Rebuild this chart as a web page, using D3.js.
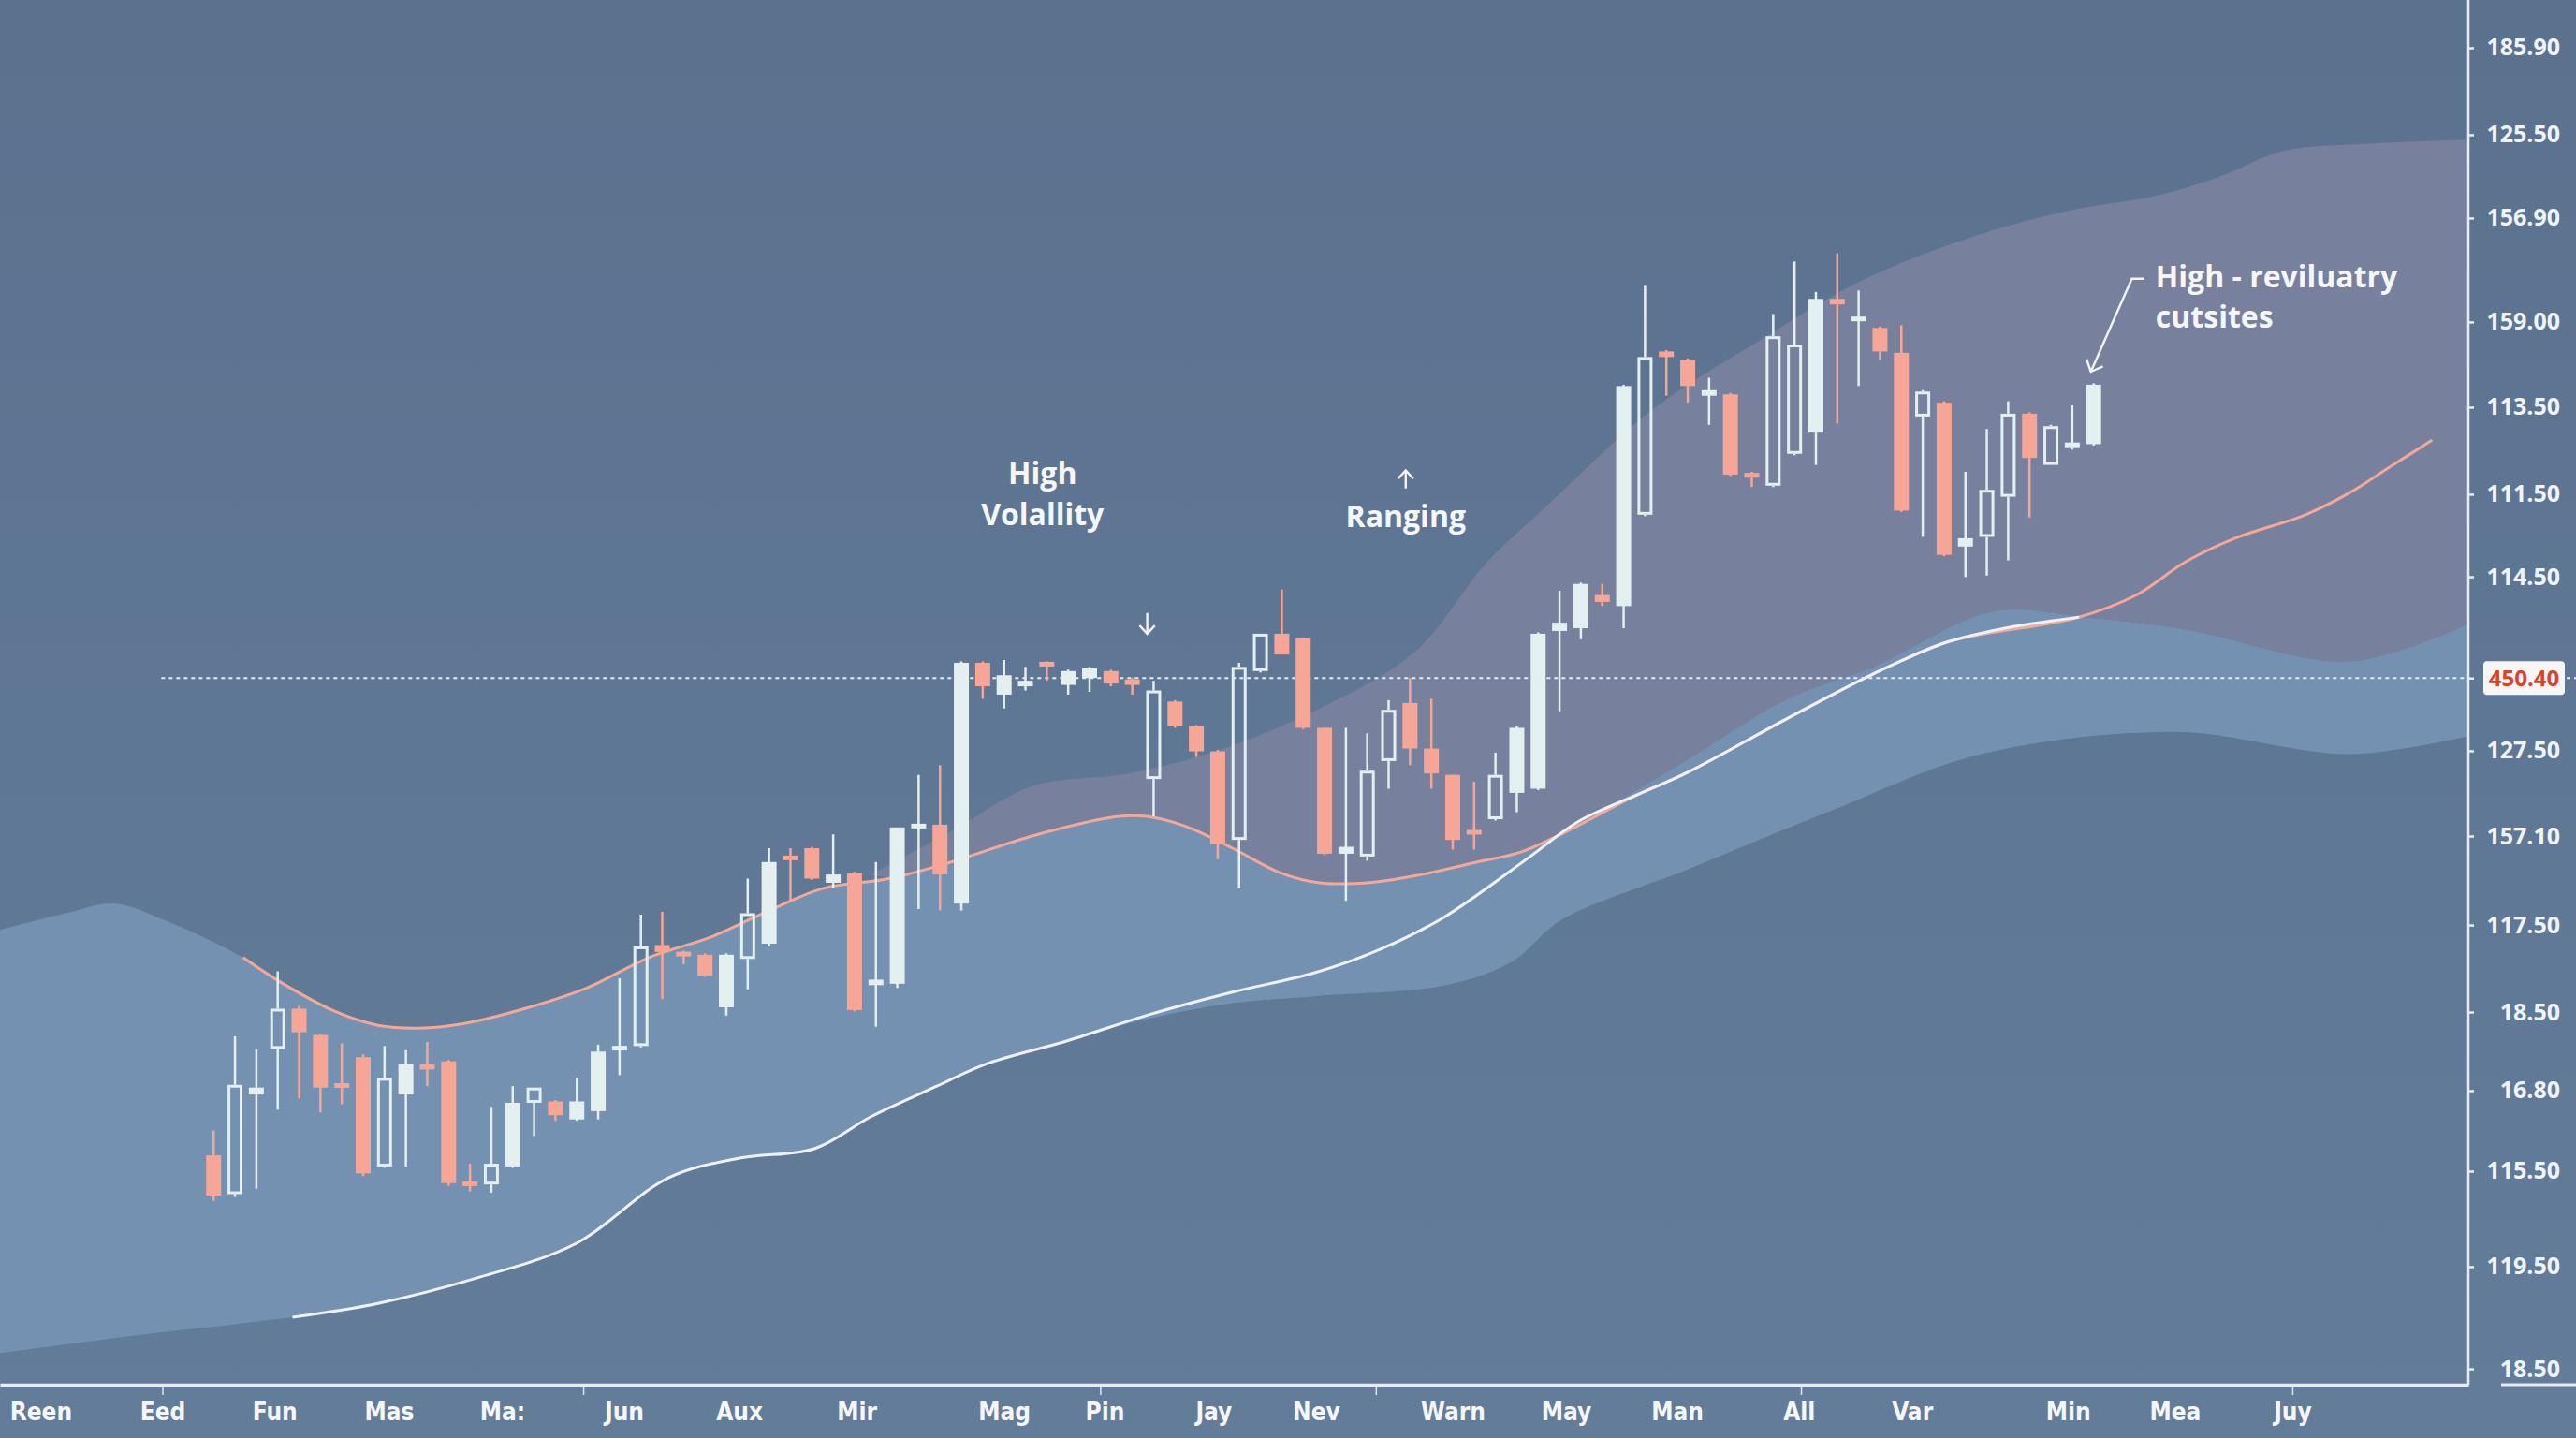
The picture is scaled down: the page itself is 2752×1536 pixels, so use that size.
<!DOCTYPE html>
<html>
<head>
<meta charset="utf-8">
<script src="https://cdn.jsdelivr.net/npm/d3@7"></script>
<style>
  html, body { margin: 0; padding: 0; background: #5e7692; }
  svg { display: block; }
</style>
</head>
<body>
<div class="container"></div>
<script>
// candles: one per session, session = array position
const opens = [16.5, 13.7, 20.9, 24.2, 27.1, 25.2, 21.7, 23.6, 15.7, 20.9,
  23.1, 23.3, 14.6, 14.4, 15.7, 20.3, 20.4, 19.1, 19.7, 24.1,
  24.4, 31.7, 31.2, 31.0, 27.2, 30.7, 31.8, 38.1, 38.7, 36.2,
  36.9, 28.8, 28.9, 40.2, 40.4, 34.7, 52.1, 49.8, 50.4, 52.1,
  50.5, 51.0, 51.5, 50.9, 43.7, 49.3, 47.5, 45.7, 39.3, 51.5,
  54.2, 53.9, 47.4, 38.3, 38.1, 45.0, 49.2, 45.9, 44.0, 40.0,
  40.8, 42.7, 43.0, 54.4, 54.6, 57.0, 56.2, 62.8, 74.6, 74.0,
  71.4, 71.5, 65.8, 64.9, 67.2, 68.8, 78.4, 76.8, 76.3, 74.5,
  69.9, 70.9, 60.5, 61.2, 64.1, 70.1, 66.4, 67.7, 67.9];
const highs = [18.3, 25.1, 24.2, 29.8, 27.3, 25.3, 24.6, 23.8, 24.4, 24.1,
  24.7, 23.4, 15.9, 20.0, 21.5, 21.4, 20.5, 22.1, 24.5, 29.3,
  33.9, 34.1, 31.3, 31.1, 31.1, 36.5, 38.7, 38.7, 38.8, 39.7,
  37.0, 37.7, 40.2, 44.0, 44.7, 52.2, 52.2, 52.3, 51.8, 52.2,
  51.6, 51.8, 51.6, 51.0, 50.8, 49.4, 47.6, 45.8, 52.1, 54.2,
  57.4, 53.9, 47.4, 47.4, 47.0, 49.4, 51.0, 49.5, 44.0, 43.5,
  45.6, 47.5, 54.3, 57.3, 57.9, 57.8, 72.2, 79.4, 74.7, 74.1,
  72.7, 71.6, 65.9, 77.3, 81.1, 78.9, 81.7, 79.0, 76.4, 76.5,
  71.8, 71.0, 65.9, 69.0, 71.0, 70.2, 69.3, 70.7, 72.3];
const lows = [13.2, 13.5, 14.1, 19.8, 20.6, 19.6, 20.2, 15.0, 15.6, 15.7,
  21.5, 14.3, 13.9, 13.8, 15.6, 17.9, 19.0, 19.0, 19.1, 22.3,
  24.3, 27.8, 30.3, 29.4, 26.6, 28.5, 31.6, 34.9, 36.4, 35.8,
  26.9, 25.8, 28.6, 34.3, 34.2, 34.2, 49.5, 48.8, 50.1, 50.8,
  49.8, 50.0, 50.4, 49.8, 41.0, 47.4, 45.3, 37.9, 35.8, 51.4,
  52.7, 47.3, 38.2, 34.9, 37.8, 43.0, 44.7, 43.0, 38.6, 38.6,
  40.7, 41.3, 42.9, 48.6, 53.8, 56.2, 54.6, 62.7, 71.4, 70.9,
  69.3, 65.6, 64.8, 64.8, 67.1, 66.4, 69.4, 72.1, 74.0, 63.0,
  61.2, 59.8, 58.3, 58.4, 59.5, 62.6, 66.4, 67.5, 67.8];
const closes = [13.6, 21.6, 21.4, 27.1, 25.4, 21.4, 21.4, 15.2, 22.1, 23.1,
  22.7, 14.5, 14.3, 15.9, 20.3, 21.4, 19.4, 20.4, 24.0, 24.4,
  31.6, 31.2, 30.9, 29.5, 31.0, 34.0, 37.7, 37.9, 36.5, 36.8,
  27.0, 29.2, 40.2, 40.4, 36.8, 52.1, 50.4, 51.2, 50.8, 51.9,
  51.5, 51.7, 50.6, 50.5, 50.1, 47.5, 45.7, 39.0, 51.8, 54.2,
  52.7, 47.4, 38.3, 38.8, 44.3, 48.7, 45.9, 44.1, 39.3, 39.7,
  44.0, 47.4, 54.2, 55.0, 57.8, 56.5, 72.1, 74.2, 74.2, 72.1,
  71.8, 65.7, 65.5, 75.7, 75.1, 78.4, 78.0, 77.1, 74.6, 63.1,
  71.7, 59.9, 61.1, 64.6, 70.1, 66.9, 69.2, 68.0, 72.2];
const hollowCandles = [1, 3, 8, 13, 15, 20, 25, 44, 48, 49, 54, 55, 60, 67, 73, 74, 80, 83, 84, 86];

// bands and averages (session, price)
const blueTopAt = [-10, -6.92, -4.62, -2.31, 1.38, 3.15, 5.69, 7.69, 9.62, 11.62, 14.54, 17.46, 20.38, 23.31,
  26.15, 28.54, 31.62, 34.54, 38.35, 42.38, 43.69, 45.46, 47.69, 49.96, 51.77, 54.0, 56.23, 59.15, 61.15,
  62.92, 65.38, 68.89, 73.69, 77.69, 83.28, 87.54, 92.31, 100, 105.54];
const blueTop = [32.8, 34.0, 34.7, 33.5, 30.8, 29.0, 26.9, 25.9, 25.7, 26.0, 27.1, 28.6, 30.8, 32.3,
  34.3, 35.8, 36.5, 37.7, 39.6, 41.0, 41.0, 40.3, 38.7, 36.9, 36.2, 36.2, 36.7, 37.7, 38.4,
  39.6, 41.8, 45.0, 49.5, 51.8, 55.8, 55.4, 54.5, 52.2, 54.9];
const blueBottomAt = [-10, -3.08, 3.69, 7.69, 12.23, 16.92, 21.31, 24.62, 28.15, 30.77, 33.85, 36.15, 40.0,
  43.85, 47.69, 51.54, 57.69, 60.77, 63.08, 68.89, 75.54, 82.74, 91.77, 100, 105.54];
const blueBottom = [2.2, 3.6, 4.8, 5.8, 7.6, 10.1, 14.9, 16.3, 17.0, 19.3, 21.5, 23.1, 24.8,
  26.4, 27.5, 28.0, 28.8, 30.5, 33.5, 37.1, 41.3, 45.5, 47.1, 45.5, 46.8];
const greyTopAt = [30.77, 34.62, 38.35, 42.82, 47.28, 51.75, 56.23, 59.62, 62.31, 67.35, 72.38, 77.38,
  82.77, 86.92, 90.77, 93.85, 96.92, 100.77, 105.54];
const greyTop = [36.8, 40.0, 43.2, 44.1, 45.9, 48.8, 52.9, 59.4, 63.3, 70.4, 75.4, 79.9,
  83.1, 84.8, 85.8, 87.2, 89.1, 89.6, 89.9];
const slowAvgAt = [1.38, 3.15, 5.69, 7.69, 9.62, 11.62, 14.54, 17.46, 20.38, 23.31, 26.15, 28.54, 31.62,
  34.54, 38.35, 42.38, 43.69, 45.46, 47.69, 49.96, 51.77, 54.0, 56.23, 59.15, 61.15, 62.92, 66.69, 68.89,
  73.69, 77.69, 81.15, 87.31, 90.0, 92.31, 94.62, 97.92, 100, 101.92, 103.85];
const slowAvg = [30.8, 29.0, 26.9, 25.9, 25.7, 26.0, 27.1, 28.6, 30.8, 32.3, 34.3, 35.8, 36.5,
  37.7, 39.6, 41.0, 41.0, 40.3, 38.7, 36.9, 36.2, 36.2, 36.7, 37.7, 38.4, 39.6, 42.6, 44.1,
  48.1, 51.3, 53.6, 55.4, 57.0, 59.4, 61.1, 62.8, 64.4, 66.3, 68.2];
const fastAvgAt = [3.69, 7.69, 12.23, 16.92, 21.31, 24.62, 28.15, 30.77, 33.85, 36.15, 40.0, 43.85, 47.69,
  51.54, 54.62, 57.58, 61.54, 63.85, 66.69, 68.89, 73.69, 77.69, 81.15, 83.85, 87.31];
const fastAvg = [4.8, 5.8, 7.6, 10.1, 14.9, 16.3, 17.0, 19.3, 21.5, 23.1, 24.8, 26.7, 28.3,
  29.7, 31.4, 33.7, 38.0, 40.6, 42.6, 44.1, 48.1, 51.3, 53.6, 54.6, 55.4];

// axes
const monthLabels = ['Reen', 'Eed', 'Fun', 'Mas', 'Ma:', 'Jun', 'Aux', 'Mir', 'Mag', 'Pin',
  'Jay', 'Nev', 'Warn', 'May', 'Man', 'All', 'Var', 'Min', 'Mea', 'Juy'];
const monthAt = [-8.1, -2.4, 2.85, 8.2, 13.5, 19.2, 24.6, 30.1, 37.0, 41.7,
  46.8, 51.6, 58.0, 63.3, 68.5, 74.2, 79.5, 86.8, 91.8, 97.3];
const monthMarks = [-2.4, 17.3, 41.5, 54.4, 74.3, 97.3];
const priceLabels = ['185.90', '125.50', '156.90', '159.00', '113.50', '111.50', '114.50',
  '127.50', '157.10', '117.50', '18.50', '16.80', '115.50', '119.50', '18.50'];
const priceAt = [96.55, 90.26, 84.24, 76.73, 70.57, 64.28, 58.32,
  45.74, 39.58, 33.15, 26.86, 21.18, 15.36, 8.46, 1.08];
const lastPrice = 51.0;
const lastPriceLabel = '450.40';
const lastPriceFrom = -2.45;

// annotations
const noteText = ['High', 'Volallity', 'Ranging', 'High - reviluatry', 'cutsites'];
const noteAt = [[38.8, 65.8], [38.8, 62.8], [55.8, 62.7], [90.9, 80.0], [90.9, 77.1]];
const noteAnchor = ['middle', 'middle', 'middle', 'start', 'start'];
const arrows = [
  [[43.7, 55.7], [43.7, 54.2]],
  [[55.8, 64.7], [55.8, 66.0]],
  [[90.37, 79.85], [89.79, 79.85], [87.87, 73.14]],
];

const width = 2752;
const height = 1536;
const axisX = 2637;
const axisY = 1479;

const x = d3.scaleLinear().domain([-10, 105.54]).range([0, axisX]);
const y = d3.scaleLinear().domain([0, 100]).range([1478, 0]);

const svg = d3.select('.container').append('svg').attr('width', width).attr('height', height);
const defs = svg.append('defs');
const grad = defs.append('linearGradient').attr('id', 'bg')
  .attr('x1', 0).attr('y1', 0).attr('x2', 0).attr('y2', 1);
grad.append('stop').attr('offset', '0%').attr('stop-color', '#5b728f');
grad.append('stop').attr('offset', '100%').attr('stop-color', '#627c99');
defs.append('clipPath').attr('id', 'plot').append('rect').attr('width', axisX).attr('height', axisY);

svg.append('rect').attr('width', width).attr('height', height).attr('fill', 'url(#bg)');

const lineGen = d3.line().x((d) => x(d[0])).y((d) => y(d[1])).curve(d3.curveCatmullRom.alpha(0.5));
const bandPath = (top, bottom) => {
  const a = lineGen(top);
  const b = lineGen(bottom.slice().reverse());
  return a + 'L' + b.slice(1) + 'Z';
};

const blueTopPts = d3.zip(blueTopAt, blueTop);
const blueBottomPts = d3.zip(blueBottomAt, blueBottom);
const greyTopPts = d3.zip(greyTopAt, greyTop);
const greyBottomPts = blueTopPts.filter((d) => d[0] >= greyTopAt[0]);

const plot = svg.append('g').attr('clip-path', 'url(#plot)');
plot.append('path').attr('d', bandPath(greyTopPts, greyBottomPts)).attr('fill', '#77819e');
plot.append('path').attr('d', bandPath(blueTopPts, blueBottomPts)).attr('fill', '#7491b2');
plot.append('path').attr('d', lineGen(d3.zip(slowAvgAt, slowAvg)))
  .attr('fill', 'none').attr('stroke', '#f4a898').attr('stroke-width', 3);
plot.append('path').attr('d', lineGen(d3.zip(fastAvgAt, fastAvg)))
  .attr('fill', 'none').attr('stroke', '#eef2f8').attr('stroke-width', 3);

plot.append('line')
  .attr('x1', x(lastPriceFrom)).attr('x2', axisX)
  .attr('y1', y(lastPrice)).attr('y2', y(lastPrice))
  .attr('stroke', '#e6ecf2').attr('stroke-width', 2).attr('stroke-dasharray', '4 4');

// candles
const bull = '#e4efef';
const bear = '#f5a696';
const bodyW = 16;
const candles = opens.map((o, i) => ({
  i, o, h: highs[i], l: lows[i], c: closes[i], hollow: hollowCandles.includes(i),
}));

plot.append('g').selectAll('g').data(candles).enter().append('g')
  .each(function (d) {
    const g = d3.select(this);
    const color = d.c >= d.o ? bull : bear;
    const cx = x(d.i);
    let top = y(Math.max(d.o, d.c));
    let bot = y(Math.min(d.o, d.c));
    if (bot - top < 5) {
      const mid = (top + bot) / 2;
      top = mid - 2.5;
      bot = mid + 2.5;
    }
    if (d.hollow) {
      g.append('line').attr('x1', cx).attr('x2', cx).attr('y1', y(d.h)).attr('y2', top)
        .attr('stroke', color).attr('stroke-width', 2.5);
      g.append('line').attr('x1', cx).attr('x2', cx).attr('y1', bot).attr('y2', y(d.l))
        .attr('stroke', color).attr('stroke-width', 2.5);
      g.append('rect').attr('x', cx - bodyW / 2 + 1.5).attr('y', top + 1.5)
        .attr('width', bodyW - 3).attr('height', Math.max(2, bot - top - 3))
        .attr('fill', 'none').attr('stroke', color).attr('stroke-width', 3);
    } else {
      g.append('line').attr('x1', cx).attr('x2', cx).attr('y1', y(d.h)).attr('y2', y(d.l))
        .attr('stroke', color).attr('stroke-width', 2.5);
      g.append('rect').attr('x', cx - bodyW / 2).attr('y', top)
        .attr('width', bodyW).attr('height', bot - top).attr('fill', color);
    }
  });

// annotations
const notes = svg.append('g')
  .attr('font-family', '"Open Sans", "Noto Sans", sans-serif')
  .attr('font-weight', 700)
  .attr('font-size', 32)
  .attr('fill', '#f4f6f9');
noteText.forEach((t, i) => {
  notes.append('text')
    .attr('x', x(noteAt[i][0]))
    .attr('y', y(noteAt[i][1]) + 11.5)
    .attr('text-anchor', noteAnchor[i])
    .text(t);
});

arrows.forEach((pts, k) => {
  const p = pts.map((d) => [x(d[0]), y(d[1])]);
  const head = k === 2 ? 14 : 12;
  notes.append('path').attr('d', d3.line()(p))
    .attr('fill', 'none').attr('stroke', '#f2f5f8').attr('stroke-width', 2.4);
  const [x1, y1] = p[p.length - 1];
  const [x0, y0] = p[p.length - 2];
  const ang = Math.atan2(y1 - y0, x1 - x0);
  const a1 = ang + Math.PI - 0.75;
  const a2 = ang + Math.PI + 0.75;
  notes.append('path')
    .attr('d', `M${x1 + head * Math.cos(a1)},${y1 + head * Math.sin(a1)}L${x1},${y1}L${x1 + head * Math.cos(a2)},${y1 + head * Math.sin(a2)}`)
    .attr('fill', 'none').attr('stroke', '#f2f5f8').attr('stroke-width', 2.4);
});

// axes
const axisColor = '#e8edf3';

const yAxis = svg.append('g')
  .attr('transform', `translate(${axisX},0)`)
  .call(d3.axisRight(y)
    .tickValues(priceAt.concat([lastPrice]))
    .tickFormat((d, i) => (i < priceLabels.length ? priceLabels[i] : ''))
    .tickSize(6)
    .tickSizeOuter(0));
yAxis.select('.domain').attr('d', `M0,0V${axisY}`);
yAxis.selectAll('path, line').attr('stroke', axisColor).attr('stroke-width', 2.5);
yAxis.selectAll('text')
  .attr('x', 98)
  .attr('text-anchor', 'end')
  .attr('fill', '#f1f4f7')
  .style('font', '700 25px "Open Sans", "Noto Sans", sans-serif');

const xAxis = svg.append('g')
  .attr('transform', `translate(0,${axisY})`)
  .call(d3.axisBottom(x)
    .tickValues(monthAt)
    .tickFormat((d, i) => monthLabels[i])
    .tickSize(0)
    .tickPadding(20)
    .tickSizeOuter(0));
xAxis.selectAll('.domain').attr('stroke', axisColor).attr('stroke-width', 3.5);
xAxis.selectAll('text')
  .attr('fill', '#f4f6f9')
  .style('font', 'bold 26px "Liberation Sans Narrow", "DejaVu Sans Condensed", "Roboto Condensed", Roboto, sans-serif');

svg.append('g')
  .attr('transform', `translate(0,${axisY})`)
  .call(d3.axisBottom(x).tickValues(monthMarks).tickFormat('').tickSize(11).tickSizeOuter(0))
  .call((g) => g.select('.domain').remove())
  .selectAll('line').attr('stroke', '#dfe6ee').attr('stroke-width', 1.5);

svg.append('line')
  .attr('x1', axisX + 35).attr('x2', width)
  .attr('y1', axisY).attr('y2', axisY)
  .attr('stroke', axisColor).attr('stroke-width', 3);

// last price tag
const tag = svg.append('g').attr('transform', `translate(${axisX + 16},${y(lastPrice)})`);
tag.append('rect').attr('x', 0).attr('y', -18).attr('width', 87).attr('height', 36).attr('rx', 4)
  .attr('fill', '#f6f6f4');
tag.append('text').attr('x', 43.5).attr('y', 8.5).attr('text-anchor', 'middle')
  .attr('fill', '#d8432e')
  .style('font', '700 24px "Open Sans", "Noto Sans", sans-serif')
  .text(lastPriceLabel);
svg.append('line')
  .attr('x1', axisX + 105).attr('x2', width)
  .attr('y1', y(lastPrice)).attr('y2', y(lastPrice))
  .attr('stroke', '#e6ecf2').attr('stroke-width', 2).attr('stroke-dasharray', '4 4');
</script>
</body>
</html>
